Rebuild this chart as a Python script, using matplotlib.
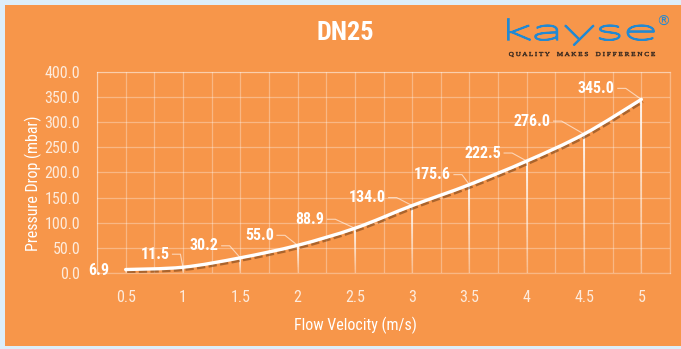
import numpy as np
import matplotlib
matplotlib.use("Agg")
import matplotlib.pyplot as plt
from matplotlib import font_manager
from matplotlib.path import Path
from matplotlib.patches import PathPatch, Rectangle
from matplotlib.textpath import TextPath
from matplotlib.transforms import Affine2D, ScaledTranslation
from matplotlib.collections import LineCollection

# ---- data ----
velocity = [0.5, 1, 1.5, 2, 2.5, 3, 3.5, 4, 4.5, 5]
pressure_drop = [6.9, 11.5, 30.2, 55.0, 88.9, 134.0, 175.6, 222.5, 276.0, 345.0]
x_ticks = [0.5, 1, 1.5, 2, 2.5, 3, 3.5, 4, 4.5, 5]
x_tick_labels = ["0.5", "1", "1.5", "2", "2.5", "3", "3.5", "4", "4.5", "5"]
y_ticks = [0, 50, 100, 150, 200, 250, 300, 350, 400]
title = "DN25"
x_title = "Flow Velocity (m/s)"
y_title = "Pressure Drop (mbar)"
brand = "kayse"
tagline = "QUALITY MAKES DIFFERENCE"

# label offsets (pixels) from each point
label_offsets = [(-27, -1), (-28, 13), (-36, 12), (-38, 10), (-45, 9),
                 (-45, 8), (-37, 10), (-44, 8), (-52, 13), (-45, 11)]

ORANGE = "#F7964A"
FRAME = "#DDEEF9"
BLUE = "#2289D2"


def pick_family(names):
    avail = {f.name for f in font_manager.fontManager.ttflist}
    for n in names:
        if n in avail:
            return n
    return "DejaVu Sans"


NARROW = pick_family(["Liberation Sans Narrow", "Roboto Condensed", "Liberation Sans"])

W, H = 681, 349
fig = plt.figure(figsize=(W / 100, H / 100), dpi=100)
fig.patch.set_facecolor(FRAME)
fig.add_artist(Rectangle((5 / W, 3 / H), 1 - 5 / W, (H - 8) / H,
                         transform=fig.transFigure, facecolor=ORANGE,
                         edgecolor="none", zorder=0))

ax = fig.add_axes([97 / W, 1 - 273 / H, (670 - 97) / W, (273 - 71.7) / H])
ax.set_facecolor("none")
ax.set_xlim(0.25, 5.25)
ax.set_ylim(0, 400)

grid_col = (1, 1, 1, 0.32)
for gx in np.arange(0.25, 5.26, 0.25):
    ax.axvline(gx, color=grid_col, lw=0.9, zorder=1)
for gy in y_ticks:
    ax.axhline(gy, color=grid_col, lw=0.9, zorder=1)
for sp in ax.spines.values():
    sp.set_color(grid_col)
    sp.set_linewidth(0.9)

ax.set_xticks(x_ticks)
ax.set_xticklabels(x_tick_labels)
ax.set_yticks(y_ticks)
ax.set_yticklabels([f"{v:.1f}" for v in y_ticks])
ax.tick_params(length=0, pad=12, labelsize=11.5, labelcolor="#FDEBDC")
ax.tick_params(axis="y", pad=12)
for lab in ax.get_xticklabels() + ax.get_yticklabels():
    lab.set_family(NARROW)

# drop lines fading towards the axis
for xv, yv in zip(velocity, pressure_drop):
    n = 40
    ys = np.linspace(yv, 0, n + 1)
    segs = [[(xv, ys[i]), (xv, ys[i + 1])] for i in range(n)]
    alphas = np.linspace(0.95, 0.1, n)
    cols = [(1, 1, 1, a) for a in alphas]
    ax.add_collection(LineCollection(segs, colors=cols, linewidths=1.3, zorder=2))

# smoothed curve through the points (Catmull-Rom as cubic Bezier)
pts = np.column_stack([velocity, pressure_drop]).astype(float)
verts = [tuple(pts[0])]
codes = [Path.MOVETO]
for i in range(len(pts) - 1):
    p0 = pts[i - 1] if i > 0 else pts[i]
    p1, p2 = pts[i], pts[i + 1]
    p3 = pts[i + 2] if i + 2 < len(pts) else pts[i + 1]
    c1 = p1 + (p2 - p0) / 6.0
    c2 = p2 - (p3 - p1) / 6.0
    verts += [tuple(c1), tuple(c2), tuple(p2)]
    codes += [Path.CURVE4] * 3
curve_path = Path(verts, codes)

# soft dark shadow under the curve, shifted down-right
shadow_tr = ax.transData + ScaledTranslation(1.5 / 100, -2.4 / 100, fig.dpi_scale_trans)
ax.add_patch(PathPatch(curve_path, facecolor="none", edgecolor=(0.38, 0.2, 0.06, 0.5),
                       lw=2.0, linestyle=(0, (3, 1.2)), transform=shadow_tr, zorder=3))
ax.add_patch(PathPatch(curve_path, facecolor="none", edgecolor="white",
                       lw=2.4, capstyle="round", transform=ax.transData, zorder=4))

# value labels
texts = []
for xv, yv, (dx, dy) in zip(velocity, pressure_drop, label_offsets):
    t = ax.annotate(f"{yv:.1f}", (xv, yv), xytext=(dx, dy),
                    textcoords="offset pixels", ha="center", va="center",
                    fontsize=11.5, fontweight="bold", color="white",
                    family=NARROW, zorder=6)
    texts.append(t)

fig.text(345 / W, 1 - 33 / H, title, ha="center", va="center",
         fontsize=19, fontweight="bold", color="white", family=NARROW)
fig.text(355 / W, 1 - 325 / H, x_title, ha="center", va="center",
         fontsize=11.5, color="white", family=NARROW)
fig.text(33 / W, 1 - 183 / H, y_title, ha="center", va="center",
         rotation=90, fontsize=11.5, color="white", family=NARROW)

# leader lines from labels to points
fig.canvas.draw()
renderer = fig.canvas.get_renderer()
inv = ax.transData.inverted()
for t, xv, yv in list(zip(texts, velocity, pressure_drop))[1:]:
    bb = t.get_window_extent(renderer)
    cy = (bb.y0 + bb.y1) / 2
    sx = bb.x1 + 3
    mx = sx + 8
    px, py = ax.transData.transform((xv, yv))
    line_pts = inv.transform([(sx, cy), (mx, cy), (px, py)])
    ax.plot(line_pts[:, 0], line_pts[:, 1], color=(1, 1, 1, 0.6), lw=0.8,
            zorder=3, clip_on=False)


def place_path(path, x0, x1, ytop, ybot, color, stroke=0.0):
    ext = path.get_extents()
    sx = (x1 - x0) / ext.width
    sy = (ybot - ytop) / ext.height
    tr = Affine2D().translate(-ext.x0, -ext.y0).scale(sx, sy).translate(x0, H - ybot)
    fig.add_artist(PathPatch(path, transform=tr, facecolor=color,
                             edgecolor=color if stroke else "none",
                             lw=stroke, zorder=10))


# brand mark: thin letters thickened evenly with an outline stroke
logo_font = font_manager.FontProperties(family=pick_family(["Lato", "DejaVu Sans"]),
                                        weight="light")
place_path(TextPath((0, 0), brand, size=30, prop=logo_font), 508, 654, 19, 45, BLUE,
           stroke=1.3)
tag_font = font_manager.FontProperties(family="Liberation Serif")
place_path(TextPath((0, 0), " ".join(tagline).replace("   ", "    "), size=20,
                    prop=tag_font), 509, 655, 52, 57, "#3a2a20", stroke=0.3)
fig.text(663 / W, 1 - 22 / H, "\u00ae", ha="center", va="center",
         fontsize=10, color=BLUE, family="DejaVu Sans")

fig.savefig("out.png", dpi=100, facecolor=fig.get_facecolor())
